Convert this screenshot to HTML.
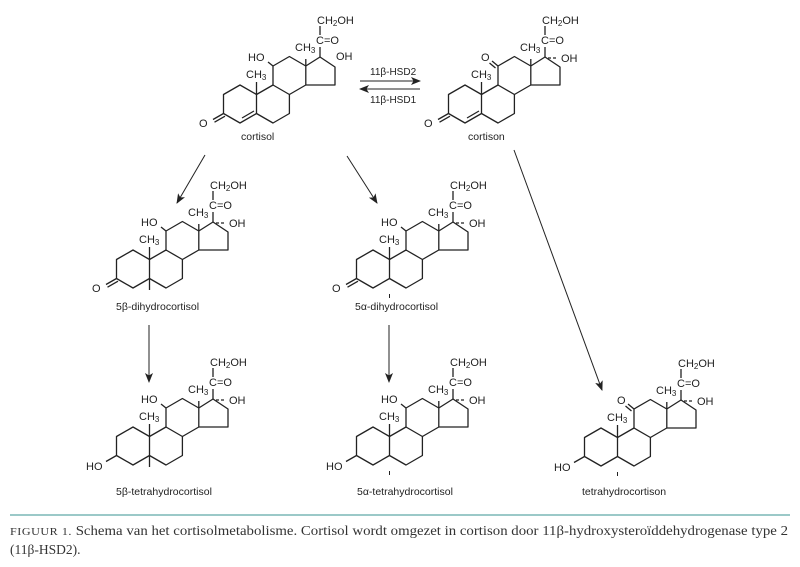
<!DOCTYPE html>
<html><head><meta charset="utf-8"><style>
body{margin:0;background:#fff;width:800px;height:567px;overflow:hidden}
svg{display:block}
.t{font-family:"Liberation Sans",sans-serif;font-size:11px;fill:#222}
.l{font-family:"Liberation Sans",sans-serif;font-size:10.5px;fill:#222}
.s{font-size:8px}
.cap{font-family:"Liberation Serif",serif;font-size:13.5px;fill:#333}
</style></head><body>
<svg width="800" height="567" viewBox="0 0 800 567" xmlns="http://www.w3.org/2000/svg">
<defs>
<g id="sk" fill="none" stroke="#222" stroke-width="1.3" stroke-linejoin="round">
<path d="M0,-19 L16.5,-9.5 L16.5,9.5 L0,19 L-16.5,9.5 L-16.5,-9.5 Z"/>
<path d="M16.5,-9.5 L33,-19 L49.4,-9.5 L49.4,9.5 L33,19 L16.5,9.5"/>
<path d="M33,-19 L33,-38 L49.4,-47.5 L65.8,-38 L65.8,-19 L49.4,-9.5"/>
<path d="M65.8,-38 L80,-47 L95,-37 L95,-19 L65.8,-19"/>
<path d="M16.5,-9.5 L16.5,-22 M65.8,-38 L65.8,-45 M80,-47 L80,-57 M80,-69 L80,-78"/>
</g>
<marker id="ah" markerWidth="10" markerHeight="8" refX="9" refY="4" orient="auto" markerUnits="userSpaceOnUse"><path d="M0,0 L10,4 L0,8 L2.5,4 Z" fill="#222"/></marker>
</defs>

<g transform="translate(240,104)">
<use href="#sk"/>
<g stroke="#222" stroke-width="1.3" fill="none">
<path d="M14,7 L2,14"/>
<path d="M-16.5,9.5 L-27,15.5 M-15,12.2 L-25.5,18.2"/>
<path d="M33,-38 L28,-42"/>
</g>
<text class="t" x="-41" y="23">O</text>
<text class="t" x="8" y="-43">HO</text>
<text class="t" x="6" y="-26">CH<tspan class="s" dy="2">3</tspan></text>
<text class="t" x="55" y="-53">CH<tspan class="s" dy="2">3</tspan></text>
<text class="t" x="76" y="-60">C=O</text>
<text class="t" x="77" y="-80">CH<tspan class="s" dy="2">2</tspan><tspan dy="-2">OH</tspan></text>
<text class="t" x="96" y="-44">OH</text>
<text class="l" x="1" y="36">cortisol</text>
</g>

<line x1="360" y1="81" x2="420" y2="81" stroke="#222" stroke-width="1" marker-end="url(#ah)"/>
<line x1="420" y1="89" x2="360" y2="89" stroke="#222" stroke-width="1" marker-end="url(#ah)"/>
<text class="l" x="370" y="75" style="font-size:10px">11β-HSD2</text>
<text class="l" x="370" y="103" style="font-size:10px">11β-HSD1</text>

<g transform="translate(465,104)">
<use href="#sk"/>
<g stroke="#222" stroke-width="1.3" fill="none">
<path d="M14,7 L2,14"/>
<path d="M-16.5,9.5 L-27,15.5 M-15,12.2 L-25.5,18.2"/>
<path d="M33,-38 L27,-43 M30.5,-36 L24.5,-41"/>
<path d="M83,-46 L93,-46" stroke-dasharray="3,2"/>
</g>
<text class="t" x="-41" y="23">O</text>
<text class="t" x="16" y="-43">O</text>
<text class="t" x="6" y="-26">CH<tspan class="s" dy="2">3</tspan></text>
<text class="t" x="55" y="-53">CH<tspan class="s" dy="2">3</tspan></text>
<text class="t" x="76" y="-60">C=O</text>
<text class="t" x="77" y="-80">CH<tspan class="s" dy="2">2</tspan><tspan dy="-2">OH</tspan></text>
<text class="t" x="96" y="-42">OH</text>
<text class="l" x="3" y="36">cortison</text>
</g>

<g transform="translate(133,269)">
<use href="#sk"/>
<g stroke="#222" stroke-width="1.3" fill="none">
<path d="M-16.5,9.5 L-27,15.5 M-15,12.2 L-25.5,18.2"/>
<path d="M16.5,9.5 L16.5,21"/>
<path d="M33,-38 L28,-42"/>
<path d="M83,-46 L93,-46" stroke-dasharray="3,2"/>
</g>
<text class="t" x="-41" y="23">O</text>
<text class="t" x="8" y="-43">HO</text>
<text class="t" x="6" y="-26">CH<tspan class="s" dy="2">3</tspan></text>
<text class="t" x="55" y="-53">CH<tspan class="s" dy="2">3</tspan></text>
<text class="t" x="76" y="-60">C=O</text>
<text class="t" x="77" y="-80">CH<tspan class="s" dy="2">2</tspan><tspan dy="-2">OH</tspan></text>
<text class="t" x="96" y="-42">OH</text>
<text class="l" x="-17" y="41">5β-dihydrocortisol</text>
</g>

<g transform="translate(373,269)">
<use href="#sk"/>
<g stroke="#222" stroke-width="1.3" fill="none">
<path d="M-16.5,9.5 L-27,15.5 M-15,12.2 L-25.5,18.2"/>
<path d="M16.5,25 L16.5,29" stroke-width="1"/>
<path d="M33,-38 L28,-42"/>
<path d="M83,-46 L93,-46" stroke-dasharray="3,2"/>
</g>
<text class="t" x="-41" y="23">O</text>
<text class="t" x="8" y="-43">HO</text>
<text class="t" x="6" y="-26">CH<tspan class="s" dy="2">3</tspan></text>
<text class="t" x="55" y="-53">CH<tspan class="s" dy="2">3</tspan></text>
<text class="t" x="76" y="-60">C=O</text>
<text class="t" x="77" y="-80">CH<tspan class="s" dy="2">2</tspan><tspan dy="-2">OH</tspan></text>
<text class="t" x="96" y="-42">OH</text>
<text class="l" x="-18" y="41">5α-dihydrocortisol</text>
</g>

<g transform="translate(133,446)">
<use href="#sk"/>
<g stroke="#222" stroke-width="1.3" fill="none">
<path d="M-16.5,9.5 L-27,15.5"/>
<path d="M16.5,9.5 L16.5,21"/>
<path d="M33,-38 L28,-42"/>
<path d="M83,-46 L93,-46" stroke-dasharray="3,2"/>
</g>
<text class="t" x="-47" y="24">HO</text>
<text class="t" x="8" y="-43">HO</text>
<text class="t" x="6" y="-26">CH<tspan class="s" dy="2">3</tspan></text>
<text class="t" x="55" y="-53">CH<tspan class="s" dy="2">3</tspan></text>
<text class="t" x="76" y="-60">C=O</text>
<text class="t" x="77" y="-80">CH<tspan class="s" dy="2">2</tspan><tspan dy="-2">OH</tspan></text>
<text class="t" x="96" y="-42">OH</text>
<text class="l" x="-17" y="49">5β-tetrahydrocortisol</text>
</g>

<g transform="translate(373,446)">
<use href="#sk"/>
<g stroke="#222" stroke-width="1.3" fill="none">
<path d="M-16.5,9.5 L-27,15.5"/>
<path d="M16.5,25 L16.5,29" stroke-width="1"/>
<path d="M33,-38 L28,-42"/>
<path d="M83,-46 L93,-46" stroke-dasharray="3,2"/>
</g>
<text class="t" x="-47" y="24">HO</text>
<text class="t" x="8" y="-43">HO</text>
<text class="t" x="6" y="-26">CH<tspan class="s" dy="2">3</tspan></text>
<text class="t" x="55" y="-53">CH<tspan class="s" dy="2">3</tspan></text>
<text class="t" x="76" y="-60">C=O</text>
<text class="t" x="77" y="-80">CH<tspan class="s" dy="2">2</tspan><tspan dy="-2">OH</tspan></text>
<text class="t" x="96" y="-42">OH</text>
<text class="l" x="-16" y="49">5α-tetrahydrocortisol</text>
</g>

<g transform="translate(601,447)">
<use href="#sk"/>
<g stroke="#222" stroke-width="1.3" fill="none">
<path d="M-16.5,9.5 L-27,15.5"/>
<path d="M16.5,25 L16.5,29" stroke-width="1"/>
<path d="M33,-38 L27,-43 M30.5,-36 L24.5,-41"/>
<path d="M83,-46 L93,-46" stroke-dasharray="3,2"/>
</g>
<text class="t" x="-47" y="24">HO</text>
<text class="t" x="16" y="-43">O</text>
<text class="t" x="6" y="-26">CH<tspan class="s" dy="2">3</tspan></text>
<text class="t" x="55" y="-53">CH<tspan class="s" dy="2">3</tspan></text>
<text class="t" x="76" y="-60">C=O</text>
<text class="t" x="77" y="-80">CH<tspan class="s" dy="2">2</tspan><tspan dy="-2">OH</tspan></text>
<text class="t" x="96" y="-42">OH</text>
<text class="l" x="-19" y="48">tetrahydrocortison</text>
</g>

<g stroke="#222" stroke-width="1">
<line x1="205" y1="155" x2="177" y2="203" marker-end="url(#ah)"/>
<line x1="347" y1="156" x2="377" y2="203" marker-end="url(#ah)"/>
<line x1="514" y1="150" x2="602" y2="390" marker-end="url(#ah)"/>
<line x1="149" y1="325" x2="149" y2="382" marker-end="url(#ah)"/>
<line x1="389" y1="325" x2="389" y2="382" marker-end="url(#ah)"/>
</g>

<line x1="10" y1="515" x2="790" y2="515" stroke="#5fa9a6" stroke-width="1.3"/>
<text class="cap" x="10" y="535" textLength="778" lengthAdjust="spacingAndGlyphs"><tspan style="font-size:11px;letter-spacing:0.5px">FIGUUR 1.</tspan> Schema van het cortisolmetabolisme. Cortisol wordt omgezet in cortison door 11β-hydroxysteroïddehydrogenase type 2</text>
<text class="cap" x="10" y="554">(11β-HSD2).</text>
</svg>
</body></html>
